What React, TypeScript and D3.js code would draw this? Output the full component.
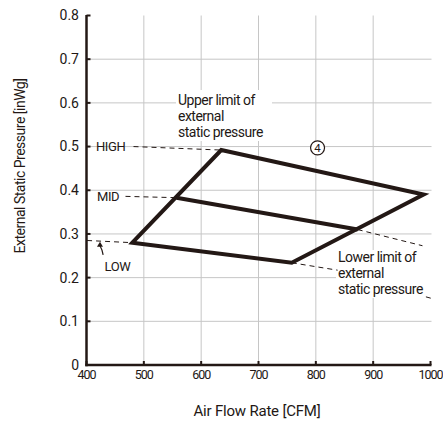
import React from "react";
import * as d3 from "d3";

const xTicks = [400, 500, 600, 700, 800, 900, 1000];
const yTicks = [0, 0.1, 0.2, 0.3, 0.4, 0.5, 0.6, 0.7, 0.8];
const yTickLabels = ["0", "0.1", "0.2", "0.3", "0.4", "0.5", "0.6", "0.7", "0.8"];

// operating range polygon (CFM, inWg)
const outerX = [480, 635, 988, 758];
const outerY = [0.28, 0.492, 0.39, 0.234];
const midX = [557, 873];
const midY = [0.383, 0.31];

// dashed guide lines
const highDashX = [482, 635];
const highDashY = [0.5, 0.492];
const midDashX = [468, 557];
const midDashY = [0.386, 0.383];
const lowDashX = [401, 480];
const lowDashY = [0.285, 0.28];
const lower1X = [758, 838];
const lower1Y = [0.234, 0.217];
const lower2X = [873, 986];
const lower2Y = [0.31, 0.273];
const lower3X = [992, 1003];
const lower3Y = [0.156, 0.152];
const lowArrowX = [429, 423.5];
const lowArrowY = [0.252, 0.282];

const circleX = 803;
const circleY = 0.497;

const W = 443;
const H = 423;
const ink = "#231815";
const font = "Roboto, 'Noto Sans', sans-serif";

export default function App() {
  const x = d3.scaleLinear().domain([400, 1000]).range([86.5, 430.5]);
  const y = d3.scaleLinear().domain([0, 0.8]).range([365, 15.5]);
  const line = d3
    .line<[number, number]>()
    .x((d) => x(d[0]))
    .y((d) => y(d[1]));
  const zip = (a: number[], b: number[]) => a.map((v, i) => [v, b[i]] as [number, number]);

  const outerPts = zip(outerX, outerY);
  const dashes = [
    zip(highDashX, highDashY),
    zip(midDashX, midDashY),
    zip(lowDashX, lowDashY),
    zip(lower1X, lower1Y),
    zip(lower2X, lower2Y),
    zip(lower3X, lower3Y),
  ];

  const ax0 = x(lowArrowX[0]);
  const ay0 = y(lowArrowY[0]);
  const ax1 = x(lowArrowX[1]);
  const ay1 = y(lowArrowY[1]);

  return (
    <svg
      width={W}
      height={H}
      style={{ position: "absolute", left: 0, top: 0, background: "#fff" }}
      fontFamily={font}
    >
      <rect width={W} height={H} fill="#fff" />
      {/* grid */}
      {xTicks.slice(1, -1).map((t) => (
        <line key={"gx" + t} x1={x(t)} x2={x(t)} y1={y(0.8)} y2={y(0)} stroke="#c6c6c6" strokeWidth={1} />
      ))}
      {yTicks.slice(1, -1).map((t) => (
        <line key={"gy" + t} x1={x(400)} x2={x(1000) + 1} y1={y(t)} y2={y(t)} stroke="#c6c6c6" strokeWidth={1} />
      ))}

      {/* label backgrounds */}
      <rect x={176} y={90} width={96} height={51} fill="#fff" />
      <rect x={336} y={250} width={107} height={48} fill="#fff" />

      {/* dashed guides */}
      {dashes.map((d, i) => (
        <path key={"d" + i} d={line(d) || ""} fill="none" stroke={ink} strokeWidth={1} strokeDasharray="5,4" />
      ))}

      {/* polygon */}
      <path d={(line(outerPts) || "") + "Z"} fill="none" stroke={ink} strokeWidth={4} strokeLinejoin="miter" />
      <path d={line(zip(midX, midY)) || ""} fill="none" stroke={ink} strokeWidth={4} />

      {/* axes */}
      <line x1={x(400)} x2={x(400)} y1={y(0.8) - 0.5} y2={y(0) + 1.2} stroke={ink} strokeWidth={2.5} />
      <line x1={x(400) - 1.2} x2={x(1000) + 1} y1={y(0)} y2={y(0)} stroke={ink} strokeWidth={2.5} />
      {yTicks.map((t) => (
        <line key={"ty" + t} x1={x(400)} x2={x(400) + 4} y1={y(t)} y2={y(t)} stroke={ink} strokeWidth={2} />
      ))}
      {xTicks.map((t) => (
        <line key={"tx" + t} x1={x(t)} x2={x(t)} y1={y(0)} y2={y(0) - 4} stroke={ink} strokeWidth={2} />
      ))}

      {/* tick labels */}
      {yTicks.map((t, i) => (
        <text key={"ly" + t} x={79} y={y(t)} dy="0.35em" textAnchor="end" fontSize={14} fill={ink}>
          {yTickLabels[i]}
        </text>
      ))}
      {xTicks.map((t) => (
        <text key={"lx" + t} x={x(t)} y={375} dy="0.35em" textAnchor="middle" fontSize={12.5} letterSpacing={-1} fill={ink}>
          {t}
        </text>
      ))}

      {/* axis titles */}
      <text x={257} y={411} dy="0.35em" textAnchor="middle" fontSize={15} letterSpacing={-0.2} fill={ink}>
        Air Flow Rate [CFM]
      </text>
      <text transform="translate(20,166) rotate(-90)" dy="0.35em" textAnchor="middle" fontSize={14} letterSpacing={-0.5} fill={ink}>
        External Static Pressure [inWg]
      </text>

      {/* annotations */}
      <text x={96} y={y(0.5)} dy="0.35em" fontSize={13} letterSpacing={-0.4} fill={ink}>HIGH</text>
      <text x={97} y={y(0.386)} dy="0.35em" fontSize={13} letterSpacing={-0.4} fill={ink}>MID</text>
      <text x={104.5} y={266} dy="0.35em" fontSize={13} letterSpacing={-0.4} fill={ink}>LOW</text>

      <path
        d={`M${ax0},${ay0} Q${ax0 - 0.5},${(ay0 + ay1) / 2 + 2} ${ax1},${ay1 + 4}`}
        fill="none"
        stroke={ink}
        strokeWidth={1.2}
      />
      <path d={`M${ax1},${ay1} l-3,5 l6,0 Z`} fill={ink} />

      <g fontSize={14} letterSpacing={-0.5} fill={ink}>
        <text x={178} y={105}>Upper limit of</text>
        <text x={178} y={121}>external</text>
        <text x={178} y={137}>static pressure</text>
        <text x={338} y={262}>Lower limit of</text>
        <text x={338} y={277.5}>external</text>
        <text x={338} y={293.5}>static pressure</text>
      </g>

      <circle cx={x(circleX)} cy={y(circleY)} r={7} fill="#fff" stroke={ink} strokeWidth={1.2} />
      <text x={x(circleX)} y={y(circleY)} dy="0.36em" textAnchor="middle" fontSize={11.5} fill={ink}>
        4
      </text>
    </svg>
  );
}
